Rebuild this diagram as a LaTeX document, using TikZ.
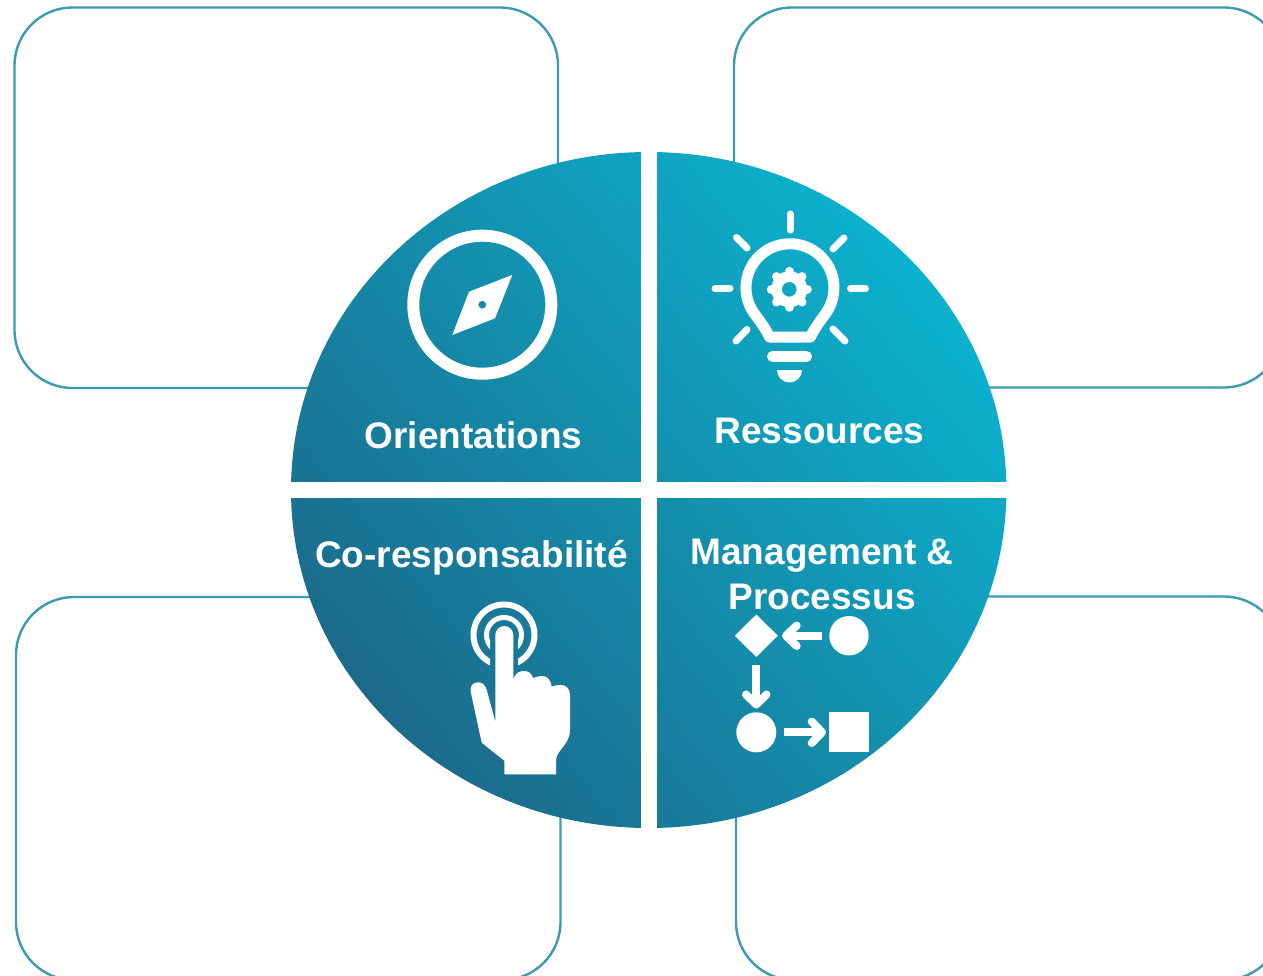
\documentclass[tikz,border=0pt]{standalone}
\usepackage{fontspec}
\usetikzlibrary{calc}
\setmainfont{Liberation Sans}
\definecolor{boxline}{HTML}{3B9BB0}
\definecolor{darkteal}{HTML}{1C6A8B}
\definecolor{lightteal}{HTML}{0BB2CE}
\tikzset{
  panel/.style={draw=boxline,line width=2.4pt,rounded corners=58pt,fill=white},
  label/.style={text=white,font=\bfseries\fontsize{37}{44}\selectfont,anchor=base,inner sep=0pt},
  iconline/.style={draw=white,line width=#1,line cap=round,line join=round},
  iconfill/.style={fill=white,draw=none},
}
\begin{document}
\begin{tikzpicture}[x=1pt,y=-1pt]
\useasboundingbox (0,0) rectangle (1263,976);
\fill[white] (0,0) rectangle (1263,976);
\begin{scope}
\clip (0,0) rectangle (1263,976);
\draw[panel] (14.5,7.5) rectangle (558,388);
\draw[panel] (734,7.5) rectangle (1282,387.5);
\draw[panel] (16,597) rectangle (560.5,980);
\draw[panel] (736,596.5) rectangle (1282,980);
\end{scope}
% disc
\shade[shading=axis,left color=lightteal,right color=darkteal,shading angle=-50]
  (648.7,490) ellipse [x radius=357.7,y radius=338];
\fill[white] (641,148) rectangle (657,832);
\fill[white] (288,482) rectangle (1010,498);
% compass
\draw[white,line width=12pt] (482.3,304.7) circle [radius=69];
\fill[white,even odd rule] (512.3,275) -- (469,291.7) -- (452.3,335) -- (495,318.3) -- cycle
  (482.3,304.7) circle [radius=4];
% bulb
\foreach \a/\b/\c/\d in {790/214/790/230,736.5/237.5/747/248,844/238/833/249,715/288.7/730/288.7,
  850.5/288.7/865.5/288.7,747/329.5/736/341,833/329/845/341}
  {\draw[iconline=7pt] (\a,\b) -- (\c,\d);}
\draw[iconline=11pt] (769.5,337) -- (810.5,337) .. controls (814,329) and (821,320) .. (826,313)
  arc [start angle=35,end angle=-215,radius=44]
  .. controls (759,320) and (766,329) .. cycle;
\draw[white,line width=10.5pt] (789.3,289.3) circle [radius=12.75];
\foreach \t in {0,45,...,315}
  {\draw[white,line width=9pt,line cap=round] ($(789.3,289.3)+(\t:15)$) -- ($(789.3,289.3)+(\t:18)$);}
\draw[iconline=11pt] (772.5,356.5) -- (806.5,356.5);
\fill[white] (777,370) -- (802,370) arc [start angle=0,end angle=180,radius=12.5] -- cycle;
% hand
\begin{scope}
\clip (460,595) -- (550,595) -- (550,672) -- (518,672) -- (518,632) -- (490,632) -- (490,672) -- (460,672) -- cycle;
\draw[white,line width=6pt] (504,635) circle [radius=30.5];
\draw[white,line width=5pt] (504,635) circle [radius=17.5];
\end{scope}
\fill[iconfill,rounded corners=0pt] (495.3,721.7) -- (495.3,635)
  arc [start angle=180,end angle=360,radius=9] -- (513.3,680)
  .. controls (515,673) and (519,671) .. (524,671)
  .. controls (529,671) and (532,674) .. (533.3,678.3)
  .. controls (536,676.5) and (540,676) .. (542.7,676)
  .. controls (548,676) and (551,681) .. (551.7,686.7)
  .. controls (554,685.5) and (558,685) .. (561.7,685)
  .. controls (567,685) and (570,690) .. (570,695)
  -- (570,730)
  .. controls (570,745) and (556,750) .. (556,760.7)
  -- (556,774.3) -- (504.3,774.3) -- (504.3,760.7) -- (481.7,742.7) -- (470.7,691.7)
  .. controls (469.5,686) and (473,682.3) .. (478.3,682.3)
  .. controls (482,682.3) and (485.5,685) .. (486.7,690)
  -- cycle;
% process icon
\fill[white] (734.8,635.7) -- (756.3,614.5) -- (777.8,635.7) -- (756.3,657) -- cycle;
\fill[white] (849,635.7) circle [radius=19.7];
\draw[white,line width=8pt] (821.7,635.7) -- (790,635.7);
\draw[iconline=8pt] (796.7,625.5) -- (786,635.7) -- (796.7,646);
\draw[white,line width=8pt] (756.3,665) -- (756.3,700);
\draw[iconline=8pt] (746,694.5) -- (756.3,704.5) -- (766.5,694.5);
\fill[white] (756.3,732.3) circle [radius=20];
\draw[white,line width=8pt] (784,732.3) -- (818,732.3);
\draw[iconline=8pt] (811.7,721.5) -- (822,732.3) -- (811.7,743);
\fill[white] (829,712) rectangle (869,751.7);
% labels
\node[label] (orient) at (473.5,448) {Orientations};
\node[label] (res) at (819.5,443) {Ressources};
\node[label] (cores) at (471.5,567) {Co-responsabilité};
\node[label] (mgmt) at (822,564.5) {Management \&};
\node[label] (proc) at (822,609) {Processus};
\end{tikzpicture}
\end{document}
